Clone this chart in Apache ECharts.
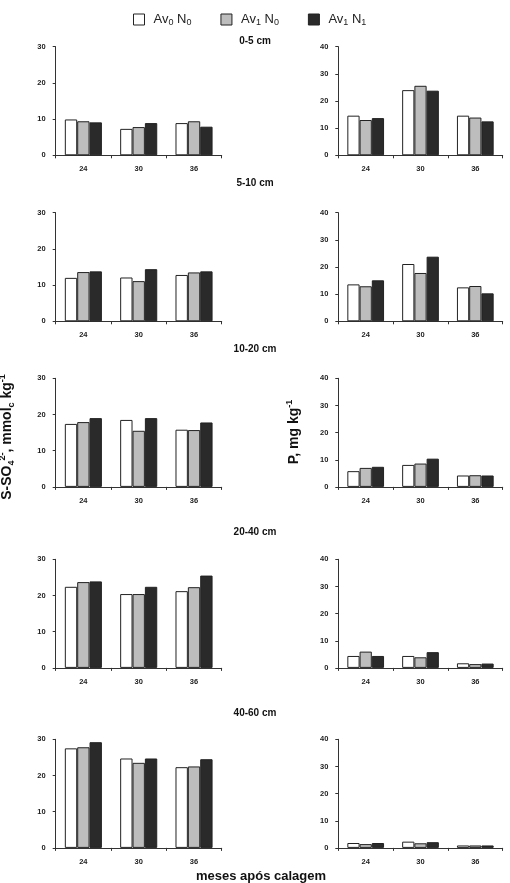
<!DOCTYPE html>
<html>
<head>
<meta charset="utf-8">
<script src="https://cdn.jsdelivr.net/npm/echarts@6/dist/echarts.min.js"></script>
<style>
html,body{margin:0;padding:0;background:#fff;}
#c{width:510px;height:883px;}
</style>
</head>
<body>
<div id="c"></div>
<script>
// ---- data ----
const categories = ['24', '30', '36'];
const depths = ['0-5 cm', '5-10 cm', '10-20 cm', '20-40 cm', '40-60 cm'];
const seriesNames = ['Av0 N0', 'Av1 N0', 'Av1 N1'];
// S-SO4 (mmolc/kg), one row per depth
const sAv0N0 = [[9.9, 7.3, 8.9], [12.0, 12.1, 12.8], [17.4, 18.5, 15.8], [22.4, 20.4, 21.2], [27.5, 24.7, 22.3]];
const sAv1N0 = [[9.4, 7.8, 9.4], [13.6, 11.1, 13.5], [17.9, 15.5, 15.7], [23.7, 20.4, 22.3], [27.8, 23.5, 22.5]];
const sAv1N1 = [[9.1, 8.9, 7.9], [13.8, 14.4, 13.8], [19.0, 19.0, 17.8], [23.9, 22.4, 25.5], [29.2, 24.7, 24.5]];
// P (mg/kg)
const pAv0N0 = [[14.6, 24.0, 14.6], [13.6, 21.1, 12.5], [5.8, 8.1, 4.2], [4.4, 4.4, 1.7], [1.8, 2.3, 0.9]];
const pAv1N0 = [[13.0, 25.6, 13.9], [12.9, 17.8, 13.0], [7.0, 8.6, 4.3], [6.0, 3.9, 1.4], [1.4, 1.7, 0.9]];
const pAv1N1 = [[13.7, 23.8, 12.5], [15.1, 23.8, 10.3], [7.4, 10.4, 4.2], [4.4, 5.8, 1.6], [1.8, 2.1, 0.9]];
const sTicks = [0, 30, 10]; // min, max, interval
const pTicks = [0, 40, 10];

// ---- layout ----
const FONT = 'Liberation Sans, Arial, sans-serif';
const rowTops = [46.7, 212.7, 378.3, 559.3, 739.3];
const rowH = 108.6;
const titleY = [41, 183, 349, 532, 713];
const colors = ['#ffffff', '#bdbdbd', '#2a2a2a'];

const grids = [], xAxes = [], yAxes = [], series = [];
const sData = [sAv0N0, sAv1N0, sAv1N1];
const pData = [pAv0N0, pAv1N0, pAv1N1];

function addPanel(row, isRight) {
  const idx = grids.length;
  grids.push({
    left: isRight ? 338.3 : 55.7,
    top: rowTops[row],
    width: isRight ? 164.4 : 166,
    height: rowH,
    outerBoundsMode: 'none',
    containLabel: false
  });
  xAxes.push({
    type: 'category', gridIndex: idx, data: categories,
    axisLine: {lineStyle: {color: '#333', width: 1}},
    axisTick: {show: true, length: 3, alignWithLabel: false, lineStyle: {color: '#333'}},
    axisLabel: {fontFamily: FONT, fontSize: 7.5, fontWeight: 'bold', color: '#222', margin: 10},
    splitLine: {show: false}
  });
  const t = isRight ? pTicks : sTicks;
  yAxes.push({
    type: 'value', gridIndex: idx, min: t[0], max: t[1], interval: t[2],
    axisLine: {show: true, lineStyle: {color: '#333', width: 1}},
    axisTick: {show: true, length: 3, lineStyle: {color: '#333'}},
    axisLabel: {fontFamily: FONT, fontSize: 7.5, fontWeight: 'bold', color: '#222', margin: 10},
    splitLine: {show: false}
  });
  const data = isRight ? pData : sData;
  for (let k = 0; k < 3; k++) {
    series.push({
      type: 'bar', name: seriesNames[k], xAxisIndex: idx, yAxisIndex: idx,
      data: data[k][row],
      barGap: '0%', barCategoryGap: '33%',
      itemStyle: {color: colors[k], borderColor: '#222', borderWidth: 1},
      emphasis: {disabled: true},
      animation: false
    });
  }
}
for (let r = 0; r < 5; r++) { addPanel(r, false); addPanel(r, true); }

const graphic = [];
depths.forEach((d, i) => {
  graphic.push({type: 'text', x: 255, y: titleY[i],
    style: {text: d, font: 'bold 10px ' + FONT, fill: '#111', align: 'center', verticalAlign: 'middle'}});
});

graphic.push({
  type: 'text', x: 7, y: 437, rotation: Math.PI / 2,
  style: {
    text: '{n|S-SO}{sub|4}{sup|2-}{n|, mmol}{sub|c}{n| kg}{sup|-1}',
    align: 'center', verticalAlign: 'middle',
    rich: {
      n: {font: 'bold 14px ' + FONT, fill: '#111', verticalAlign: 'middle'},
      sub: {font: 'bold 9px ' + FONT, fill: '#111', padding: [9, 0, 0, 0]},
      sup: {font: 'bold 9px ' + FONT, fill: '#111', padding: [0, 0, 8, 0]}
    }
  }
});
graphic.push({
  type: 'text', x: 294, y: 432, rotation: Math.PI / 2,
  style: {
    text: '{n|P, mg kg}{sup|-1}',
    align: 'center', verticalAlign: 'middle',
    rich: {
      n: {font: 'bold 14px ' + FONT, fill: '#111'},
      sup: {font: 'bold 9px ' + FONT, fill: '#111', padding: [0, 0, 8, 0]}
    }
  }
});
graphic.push({
  type: 'text', x: 261, y: 876,
  style: {text: 'meses após calagem', font: 'bold 13px ' + FONT, fill: '#111',
    align: 'center', verticalAlign: 'middle'}
});

const legendLabel = {
  'Av0 N0': '{n|Av}{s|0}{n| N}{s|0}',
  'Av1 N0': '{n|Av}{s|1}{n| N}{s|0}',
  'Av1 N1': '{n|Av}{s|1}{n| N}{s|1}'
};

const option = {
  backgroundColor: '#fff',
  animation: false,
  legend: {
    data: seriesNames,
    left: 128, top: 8,
    itemWidth: 11, itemHeight: 11, itemGap: 29,
    icon: 'rect',
    itemStyle: {borderColor: '#222', borderWidth: 1},
    formatter: n => legendLabel[n],
    textStyle: {
      padding: [0, 0, 0, 4],
      rich: {
        n: {fontFamily: FONT, fontSize: 13, color: '#222'},
        s: {fontFamily: FONT, fontSize: 9, color: '#222', padding: [7, 0, 0, 0]}
      }
    },
    selectedMode: false
  },
  grid: grids,
  xAxis: xAxes,
  yAxis: yAxes,
  series: series,
  graphic: graphic
};
const chart = echarts.init(document.getElementById('c'), null, {renderer: 'canvas'});
chart.setOption(option);
</script>
</body>
</html>
